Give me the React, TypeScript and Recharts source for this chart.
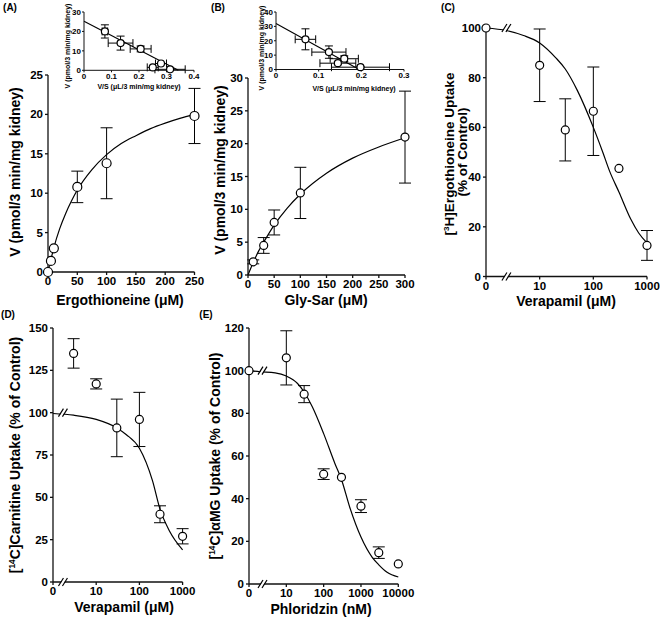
import React from 'react';
import { ComposedChart, XAxis, YAxis, Line, Scatter, ErrorBar, ReferenceDot } from 'recharts';

const FONT = '"Liberation Sans", Arial, Helvetica, sans-serif';

// (A) ergothioneine uptake vs concentration
const ergoConc = [0, 5, 10, 50, 100, 250];
const ergoV = [0, 1.4, 3.0, 10.8, 13.8, 19.8];
const ergoErr = [0, 0, 0, 2.0, 4.5, 3.5];
const ergoFitX = [0, 2.5, 5, 10, 20, 30, 40, 50, 75, 100, 125, 150, 175, 200, 225, 250];
const ergoFitV = [0, 0.85, 1.6, 3.1, 5.5, 7.4, 9.0, 10.4, 13.0, 14.9, 16.3, 17.3, 18.2, 18.9, 19.5, 20.0];
// (A) inset, V vs V/S
const ergoVS = [0.076, 0.133, 0.206, 0.25, 0.28, 0.313];
const ergoVSV = [20, 14, 11, 1.5, 3.5, 0.5];
const ergoVSErrX = [0.01, 0.045, 0.038, 0.02, 0.02, 0.055];
const ergoVSErrY = [3.4, 3.6, 1.5, 0, 0, 0];
const ergoLineX = [0, 0.343];
const ergoLineV = [25.2, 0];

// (B) Gly-Sar
const glyConc = [10, 30, 50, 100, 300];
const glyV = [2.0, 4.5, 8.0, 12.5, 21.0];
const glyErr = [0.3, 1.2, 1.9, 3.9, 7.0];
const glyFitX = [0, 10, 20, 30, 50, 75, 100, 150, 200, 250, 300];
const glyFitV = [0, 1.9, 3.6, 5.0, 7.6, 10.2, 12.3, 15.5, 17.8, 19.5, 20.9];
const glyVS = [0.069, 0.124, 0.16, 0.145, 0.198];
const glyVSV = [21, 12.1, 7.5, 4.4, 1.6];
const glyVSErrX = [0.024, 0.04, 0.033, 0.042, 0.068];
const glyVSErrY = [7.3, 4.3, 2, 1, 0.5];
const glyLineX = [0, 0.195];
const glyLineV = [32, 0];

// (C) verapamil vs ergothioneine; control (0) sits at the left end of the broken log axis
const verC = [1, 10, 30, 100, 300, 1000];
const verCUptake = [100, 85, 59, 66.5, 43.5, 12.5];
const verCErr = [0, 14.6, 12.5, 17.8, 0, 6];
const verCFitX = [1, 2.4, 5, 10, 20, 30, 50, 100, 150, 200, 300, 500, 700, 1000];
const verCFitY = [100, 99, 97, 94, 88, 83.5, 75, 60, 50, 42.5, 34, 23, 17.5, 13.5];

// (D) verapamil vs carnitine
const verD = [3, 10, 30, 100, 300, 1000];
const verDUptake = [135, 117, 91, 96, 40, 27];
const verDErr = [8.7, 3, 17, 16, 5, 4.5];
const verDFitX = [1, 3, 10, 30, 50, 100, 200, 300, 500, 1000];
const verDFitY = [99.5, 98.5, 96, 91, 87, 79, 60, 43, 30, 19];

// (E) phloridzin vs aMG
const phlConc = [1, 10, 30, 100, 300, 1000, 3000, 10000];
const phlUptake = [100, 106, 89, 51.5, 50, 36.5, 14.7, 9.4];
const phlErr = [0, 12.7, 4, 2.5, 0, 3, 2.7, 0];
const phlFitX = [1, 2, 5, 10, 20, 30, 50, 100, 200, 300, 500, 1000, 2000, 3000, 5000, 10000];
const phlFitY = [100, 99.5, 99, 97.5, 94, 90, 83, 70.5, 56.5, 49, 36, 22, 12.5, 9, 5.5, 3.3];

const logFmt = (v: number) => (v === 1 ? '0' : String(v));

const pts = (xs: number[], ys: number[], ey: number[], ex?: number[]) =>
  xs.map((x, i) => ({ x, y: ys[i], ey: ey[i], ex: ex ? ex[i] : 0 }));
const curve = (xs: number[], ys: number[]) => xs.map((x, i) => ({ x, y: ys[i] }));

const dot = (r: number) => (p: any) =>
  p.cx == null ? null : <circle cx={p.cx} cy={p.cy} r={r} fill="#fff" stroke="#000" strokeWidth={1.2} />;

const BreakMark = (p: any) => {
  const { cx, cy } = p;
  if (cx == null) return null;
  return (
    <g>
      <polygon points={`${cx - 4},${cy + 4} ${cx - 1},${cy + 4} ${cx + 4},${cy - 4} ${cx + 1},${cy - 4}`} fill="#fff" />
      <line x1={cx - 4.5} y1={cy + 4} x2={cx + 0.5} y2={cy - 4} stroke="#000" strokeWidth={1.2} />
      <line x1={cx - 0.5} y1={cy + 4} x2={cx + 4.5} y2={cy - 4} stroke="#000" strokeWidth={1.2} />
    </g>
  );
};

type PanelProps = {
  left: number; right: number; top: number; bottom: number;
  yw: number; xh: number; small?: boolean; xLog?: boolean;
  xDomain: number[]; xTicks: number[]; yDomain: number[]; yTicks: number[];
  xFmt?: (v: number) => string; children: React.ReactNode;
};

function Panel(props: PanelProps) {
  const { left, right, top, bottom, yw, xh, small, xLog, xDomain, xTicks, yDomain, yTicks, xFmt, children } = props;
  const mT = 8, mR = 24;
  const bx = left - yw, by = top - mT;
  const w = right - bx + mR, h = bottom + xh - by;
  const tick = { fill: '#000', fontSize: small ? 8 : 11.5, fontWeight: 700, fontFamily: FONT };
  return (
    <div style={{ position: 'absolute', left: bx, top: by }}>
      <ComposedChart width={w} height={h} margin={{ top: mT, right: mR, bottom: 0, left: 0 }}>
        <XAxis dataKey="x" type="number" scale={xLog ? 'log' : 'linear'} domain={xDomain} ticks={xTicks}
          tickFormatter={xFmt} interval={0} height={xh} tick={tick} tickSize={small ? 2 : 3} tickMargin={small ? 1 : 2}
          stroke="#111" strokeWidth={small ? 1 : 1.3} />
        <YAxis type="number" domain={yDomain} ticks={yTicks} interval={0} width={yw} tick={tick}
          tickSize={small ? 2 : 3} tickMargin={small ? 1 : 2} stroke="#111" strokeWidth={small ? 1 : 1.3} />
        {children}
      </ComposedChart>
    </div>
  );
}

const Txt = ({ x, y, size, rot, children }: { x: number; y: number; size: number; rot?: boolean; children: React.ReactNode }) => (
  <div style={{
    position: 'absolute', left: x, top: y, fontSize: size, fontWeight: 700, whiteSpace: 'nowrap', lineHeight: 1,
    transform: `translate(-50%, -50%)${rot ? ' rotate(-90deg)' : ''}`,
  }}>{children}</div>
);

const sup = (s: string) => <sup style={{ fontSize: '0.6em', verticalAlign: '0.6em', lineHeight: 0 }}>{s}</sup>;

const fitLine = (data: any[], w = 1.2) => (
  <Line data={data} dataKey="y" type="monotone" dot={false} activeDot={false} stroke="#000" strokeWidth={w} isAnimationActive={false} />
);

const scatterY = (data: any[], r: number, cap = 6) => (
  <Scatter data={data} dataKey="y" shape={dot(r)} isAnimationActive={false}>
    <ErrorBar dataKey="ey" direction="y" width={cap} stroke="#000" strokeWidth={1} isAnimationActive={false} />
  </Scatter>
);

const scatterXY = (data: any[], r: number) => (
  <Scatter data={data} dataKey="y" shape={dot(r)} isAnimationActive={false}>
    <ErrorBar dataKey="ex" direction="x" width={4} stroke="#000" strokeWidth={1} isAnimationActive={false} />
    <ErrorBar dataKey="ey" direction="y" width={4} stroke="#000" strokeWidth={1} isAnimationActive={false} />
  </Scatter>
);

const brk = (x: number, y: number) => (
  <ReferenceDot x={x} y={y} r={0} shape={BreakMark} ifOverflow="visible" zIndex={900} />
);

export default function App() {
  return (
    <div style={{ position: 'absolute', left: 0, top: 0, width: 660, height: 617, background: '#fff', fontFamily: FONT, color: '#000', overflow: 'hidden' }}>
      {/* (A) */}
      <Panel left={48} right={194.5} top={75} bottom={272} yw={30} xh={20}
        xDomain={[0, 250]} xTicks={[0, 50, 100, 150, 200, 250]} yDomain={[0, 25]} yTicks={[0, 5, 10, 15, 20, 25]}>
        {fitLine(curve(ergoFitX, ergoFitV))}
        {scatterY(pts(ergoConc, ergoV, ergoErr), 4.5)}
      </Panel>
      <Panel left={84} right={194} top={11.7} bottom={70} yw={18} xh={12} small
        xDomain={[0, 0.4]} xTicks={[0, 0.1, 0.2, 0.3, 0.4]} yDomain={[0, 30]} yTicks={[0, 10, 20, 30]}>
        {fitLine(curve(ergoLineX, ergoLineV), 1.1)}
        {scatterXY(pts(ergoVS, ergoVSV, ergoVSErrY, ergoVSErrX), 3.5)}
      </Panel>

      {/* (B) */}
      <Panel left={248} right={405} top={78} bottom={275} yw={30} xh={20}
        xDomain={[0, 300]} xTicks={[0, 50, 100, 150, 200, 250, 300]} yDomain={[0, 30]} yTicks={[0, 5, 10, 15, 20, 25, 30]}>
        {fitLine(curve(glyFitX, glyFitV))}
        {scatterY(pts(glyConc, glyV, glyErr), 4)}
      </Panel>
      <Panel left={276} right={404} top={12} bottom={69.5} yw={18} xh={12} small
        xDomain={[0, 0.3]} xTicks={[0, 0.1, 0.2, 0.3]} yDomain={[0, 40]} yTicks={[0, 10, 20, 30, 40]}>
        {fitLine(curve(glyLineX, glyLineV), 1.1)}
        {scatterXY(pts(glyVS, glyVSV, glyVSErrY, glyVSErrX), 3.5)}
      </Panel>

      {/* (C) */}
      <Panel left={486} right={647} top={28} bottom={276.5} yw={30} xh={20} xLog xFmt={logFmt}
        xDomain={[1, 1000]} xTicks={[1, 10, 100, 1000]} yDomain={[0, 100]} yTicks={[0, 20, 40, 60, 80, 100]}>
        {fitLine(curve(verCFitX, verCFitY))}
        {scatterY(pts(verC, verCUptake, verCErr), 4)}
        {brk(2.4, 100)}
        {brk(2.4, 0)}
      </Panel>

      {/* (D) */}
      <Panel left={52.7} right={182.3} top={327.7} bottom={581.7} yw={30} xh={20} xLog xFmt={logFmt}
        xDomain={[1, 1000]} xTicks={[1, 10, 100, 1000]} yDomain={[0, 150]} yTicks={[0, 25, 50, 75, 100, 125, 150]}>
        {fitLine(curve(verDFitX, verDFitY))}
        {scatterY(pts(verD, verDUptake, verDErr), 4)}
        {brk(1.7, 100)}
        {brk(1.7, 0)}
      </Panel>

      {/* (E) */}
      <Panel left={249.4} right={398.7} top={328} bottom={584} yw={30} xh={20} xLog xFmt={logFmt}
        xDomain={[1, 10000]} xTicks={[1, 10, 100, 1000, 10000]} yDomain={[0, 120]} yTicks={[0, 20, 40, 60, 80, 100, 120]}>
        {fitLine(curve(phlFitX, phlFitY))}
        {scatterY(pts(phlConc, phlUptake, phlErr), 4)}
        {brk(2.3, 100)}
        {brk(2.3, 0)}
      </Panel>

      {/* panel letters */}
      <Txt x={10} y={8} size={10}>(A)</Txt>
      <Txt x={218} y={8} size={10}>(B)</Txt>
      <Txt x={448} y={8} size={10}>(C)</Txt>
      <Txt x={8} y={315} size={10}>(D)</Txt>
      <Txt x={206} y={315} size={10}>(E)</Txt>

      {/* axis titles */}
      <Txt x={15} y={172} size={14} rot>V (pmol/3 min/mg kidney)</Txt>
      <Txt x={120} y={300} size={14}>Ergothioneine (μM)</Txt>
      <Txt x={67} y={46} size={7} rot>V (pmol/3 min/mg kidney)</Txt>
      <Txt x={139} y={86} size={7}>V/S (μL/3 min/mg kidney)</Txt>

      <Txt x={220} y={170} size={14} rot>V (pmol/3 min/mg kidney)</Txt>
      <Txt x={326} y={300} size={14}>Gly-Sar (μM)</Txt>
      <Txt x={261} y={48} size={7} rot>V (pmol/3 min/mg kidney)</Txt>
      <Txt x={354} y={88} size={7}>V/S (μL/3 min/mg kidney)</Txt>

      <Txt x={450} y={154} size={13.5} rot>[{sup('3')}H]Ergothioneine Uptake</Txt>
      <Txt x={463} y={152} size={13.5} rot>(% of Control)</Txt>
      <Txt x={566} y={301} size={14}>Verapamil (μM)</Txt>

      <Txt x={15} y={455} size={14} rot>[{sup('14')}C]Carnitine Uptake (% of Control)</Txt>
      <Txt x={124} y={607} size={14}>Verapamil (μM)</Txt>

      <Txt x={215} y={456} size={14} rot>[{sup('14')}C]αMG Uptake (% of Control)</Txt>
      <Txt x={321} y={608.5} size={14}>Phloridzin (nM)</Txt>
    </div>
  );
}
